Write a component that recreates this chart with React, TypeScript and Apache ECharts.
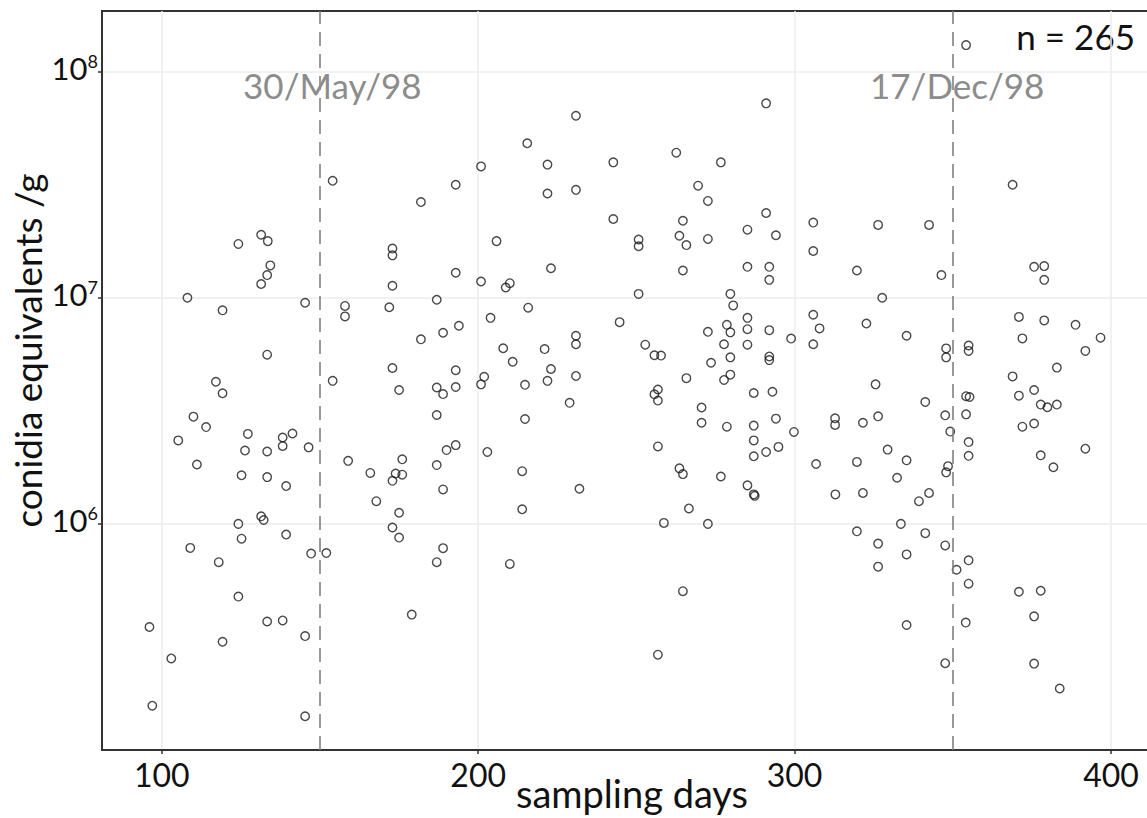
import React, { useEffect, useRef } from "react";
import * as echarts from "echarts";

// sampling day of each sample (day of year, 1998)
const samplingDays = [
  // before 30/May/98
  131.4, 133.5, 124.2, 134.3, 133.3, 131.4, 108.1, 145.3, 119.2, 133.3,
  117.1, 119.2, 110.0, 114.0, 105.2, 127.2, 138.2, 141.3, 126.3, 133.3,
  138.2, 146.4, 111.1, 125.2, 133.3, 139.3, 131.4, 132.2, 124.2, 125.2,
  139.3, 109.0, 147.2, 118.0, 124.2, 96.1, 133.3, 138.2, 145.3, 119.2,
  103.0, 97.0, 145.3,
  // 150 - 220
  215.5, 200.9, 154.0, 192.9, 181.9, 205.8, 172.9, 172.9, 192.9, 200.9,
  210.0, 208.7, 172.9, 157.9, 157.9, 171.9, 186.9, 215.8, 203.9, 193.9,
  188.9, 181.9, 207.9, 210.9, 172.9, 154.0, 175.0, 186.9, 188.9, 192.9,
  192.9, 200.9, 201.9, 214.8, 186.9, 214.8, 158.9, 165.9, 167.8, 176.0,
  173.9, 176.0, 172.9, 175.0, 172.9, 175.0, 186.9, 190.0, 192.9, 188.9,
  202.9, 213.9, 213.9, 152.0, 188.9, 186.9, 210.0, 179.0,
  // 220 - 283
  230.9, 221.9, 221.9, 230.9, 242.7, 242.7, 262.6, 276.7, 269.5, 272.6,
  264.7, 263.6, 265.8, 272.6, 250.7, 250.7, 264.7, 223.0, 250.7, 244.7,
  279.7, 280.6, 278.6, 279.7, 272.6, 277.7, 279.7, 273.6, 277.7, 279.7,
  230.9, 230.9, 221.0, 223.0, 221.9, 230.9, 228.9, 232.0, 252.8, 255.7,
  257.8, 265.8, 256.8, 255.7, 256.8, 270.6, 270.6, 278.6, 256.8, 263.6,
  264.7, 276.7, 266.6, 258.7, 272.6, 264.7, 256.8,
  // 283 - 350
  291.0, 291.0, 285.1, 294.1, 285.1, 292.0, 292.0, 305.9, 305.9, 326.4,
  342.5, 319.7, 346.4, 327.7, 322.7, 335.4, 305.9, 307.9, 305.9, 298.9,
  285.1, 285.1, 285.1, 292.0, 292.0, 292.0, 287.1, 293.0, 294.1, 287.1,
  287.1, 287.1, 291.0, 294.9, 299.8, 285.1, 287.1, 287.4, 312.8, 312.8,
  321.6, 326.4, 325.6, 341.3, 329.4, 335.4, 332.4, 306.8, 319.7, 312.9,
  321.6, 342.5, 339.3, 319.7, 333.6, 341.3, 326.4, 326.4, 335.4, 335.4,
  347.6, 347.6, 347.6, 347.9, 347.9, 349.2, 348.5, 347.9,
  // after 17/Dec/98
  354.2, 368.9, 375.7, 378.9, 378.9, 370.9, 378.9, 388.8, 396.7, 372.0,
  391.9, 355.0, 355.0, 382.9, 368.9, 375.7, 370.9, 377.8, 379.9, 382.9,
  354.2, 355.3, 354.2, 372.0, 375.7, 355.0, 355.0, 377.8, 381.8, 391.9,
  355.0, 351.2, 355.0, 354.1, 370.9, 377.8, 375.7, 375.7, 383.8,
];

// conidia equivalents per gram of each sample
const conidiaPerGram = [
  1.9e7, 1.78e7, 1.73e7, 1.39e7, 1.26e7, 1.15e7, 1.0e7, 9.5e6, 8.8e6, 5.6e6,
  4.25e6, 3.78e6, 2.98e6, 2.68e6, 2.34e6, 2.5e6, 2.41e6, 2.51e6, 2.11e6, 2.09e6,
  2.21e6, 2.18e6, 1.83e6, 1.64e6, 1.61e6, 1.47e6, 1.08e6, 1.04e6, 1.0e6, 8.6e5,
  8.97e5, 7.83e5, 7.39e5, 6.77e5, 4.77e5, 3.5e5, 3.7e5, 3.74e5, 3.19e5, 3.01e5,
  2.54e5, 1.57e5, 1.41e5,

  4.82e7, 3.81e7, 3.29e7, 3.16e7, 2.65e7, 1.78e7, 1.65e7, 1.54e7, 1.29e7, 1.18e7,
  1.16e7, 1.11e7, 1.13e7, 9.2e6, 8.27e6, 9.08e6, 9.8e6, 9.04e6, 8.15e6, 7.52e6,
  7.0e6, 6.55e6, 5.98e6, 5.21e6, 4.89e6, 4.29e6, 3.91e6, 4.01e6, 3.75e6, 4.78e6,
  4.03e6, 4.14e6, 4.47e6, 4.12e6, 3.03e6, 2.91e6, 1.9e6, 1.68e6, 1.26e6, 1.93e6,
  1.67e6, 1.65e6, 1.55e6, 1.12e6, 9.64e5, 8.7e5, 1.82e6, 2.12e6, 2.23e6, 1.42e6,
  2.08e6, 1.71e6, 1.16e6, 7.43e5, 7.81e5, 6.77e5, 6.65e5, 3.97e5,

  6.38e7, 3.88e7, 2.89e7, 3.0e7, 3.97e7, 2.23e7, 4.38e7, 3.97e7, 3.13e7, 2.68e7,
  2.19e7, 1.88e7, 1.71e7, 1.82e7, 1.81e7, 1.69e7, 1.32e7, 1.35e7, 1.04e7, 7.8e6,
  1.04e7, 9.25e6, 7.59e6, 7.03e6, 7.07e6, 6.23e6, 5.45e6, 5.16e6, 4.33e6, 4.57e6,
  6.79e6, 6.23e6, 5.93e6, 4.84e6, 4.29e6, 4.51e6, 3.43e6, 1.43e6, 6.2e6, 5.57e6,
  5.55e6, 4.41e6, 3.93e6, 3.74e6, 3.51e6, 3.27e6, 2.8e6, 2.69e6, 2.2e6, 1.76e6,
  1.66e6, 1.62e6, 1.17e6, 1.01e6, 1.0e6, 5.04e5, 2.64e5,

  7.24e7, 2.37e7, 2.0e7, 1.89e7, 1.37e7, 1.37e7, 1.2e7, 2.15e7, 1.61e7, 2.1e7,
  2.1e7, 1.32e7, 1.26e7, 1.0e7, 7.69e6, 6.79e6, 8.41e6, 7.32e6, 6.23e6, 6.6e6,
  8.15e6, 7.26e6, 6.2e6, 7.19e6, 5.5e6, 5.3e6, 3.79e6, 3.84e6, 2.92e6, 2.72e6,
  2.34e6, 1.99e6, 2.08e6, 2.19e6, 2.55e6, 1.48e6, 1.35e6, 1.33e6, 2.93e6, 2.74e6,
  2.8e6, 2.99e6, 4.14e6, 3.46e6, 2.13e6, 1.91e6, 1.6e6, 1.84e6, 1.88e6, 1.35e6,
  1.37e6, 1.37e6, 1.26e6, 9.27e5, 1.0e6, 9.1e5, 8.18e5, 6.47e5, 7.33e5, 3.57e5,
  3.02e6, 8.03e5, 2.42e5, 5.97e6, 5.45e6, 2.56e6, 1.8e6, 1.69e6,

  1.31e8, 3.16e7, 1.37e7, 1.38e7, 1.2e7, 8.23e6, 7.94e6, 7.59e6, 6.66e6, 6.61e6,
  5.82e6, 6.15e6, 5.82e6, 4.91e6, 4.49e6, 3.91e6, 3.69e6, 3.37e6, 3.28e6, 3.37e6,
  3.67e6, 3.64e6, 3.05e6, 2.69e6, 2.78e6, 2.3e6, 2.0e6, 2.01e6, 1.78e6, 2.15e6,
  6.9e5, 6.27e5, 5.44e5, 3.66e5, 5.01e5, 5.06e5, 3.9e5, 2.41e5, 1.87e5,
];

const xTickLabels = [100, 200, 300, 400];
const yTickValues = [1e6, 1e7, 1e8];
const eventDays = [150, 350];
const eventLabels = ["30/May/98", "17/Dec/98"];
const eventLabelDays = [153.9, 351.4];
const eventLabelLevel = 8.7e7;
const sampleCountLabel = "n = 265";

const FONT = "Lato, 'Open Sans', sans-serif";

export default function App() {
  const ref = useRef<HTMLDivElement>(null);

  useEffect(() => {
    const chart = echarts.init(ref.current as HTMLDivElement, null, { renderer: "svg" });
    const points = samplingDays.map((d, i) => [d, conidiaPerGram[i]]);
    chart.setOption({
      animation: false,
      grid: {
        left: 102,
        right: -1,
        top: 11,
        bottom: 68,
        containLabel: false,
        outerBoundsMode: "none",
        show: true,
        borderColor: "#333",
        borderWidth: 2,
        backgroundColor: "transparent",
      },
      xAxis: {
        type: "value",
        min: 81.1,
        max: 411.7,
        splitNumber: 7,
        name: "sampling days",
        nameLocation: "middle",
        nameGap: 24,
        nameMoveOverlap: false,
        nameTextStyle: { fontSize: 38, fontFamily: FONT, color: "#111", padding: [0, 0, 0, 14] },
        axisLine: { show: true, lineStyle: { color: "#333", width: 2 } },
        axisTick: { show: true, length: 4, customValues: xTickLabels, lineStyle: { color: "#333", width: 1.5 } },
        axisLabel: { customValues: xTickLabels, margin: 8, fontSize: 32, fontFamily: FONT, color: "#111" },
        splitLine: { show: true, lineStyle: { color: "#ececec", width: 1.5 } },
      },
      yAxis: {
        type: "log",
        logBase: 10,
        min: 1e5,
        max: 1.854e8,
        name: "conidia equivalents /g",
        nameLocation: "middle",
        nameGap: 56,
        nameMoveOverlap: false,
        nameTextStyle: { fontSize: 37, fontFamily: FONT, color: "#111", padding: [0, 0, 0, 60] },
        axisLine: { show: true, lineStyle: { color: "#333", width: 2 } },
        axisTick: { show: true, length: 4, customValues: yTickValues, lineStyle: { color: "#333", width: 1.5 } },
        axisLabel: {
          customValues: yTickValues,
          margin: 4,
          padding: [0, 0, 8, 0],
          formatter: (v: number) => `{b|10}{s|${Math.round(Math.log10(v))}}`,
          rich: {
            b: { fontSize: 31, fontFamily: FONT, color: "#111", lineHeight: 32 },
            s: { fontSize: 18, fontFamily: FONT, color: "#111", verticalAlign: "top", lineHeight: 18 },
          },
        },
        splitLine: { show: true, lineStyle: { color: "#ececec", width: 1.5 } },
      },
      graphic: [
        {
          type: "text",
          right: 12,
          top: 18,
          style: { text: sampleCountLabel, fontSize: 35, fontFamily: FONT, fill: "#111" },
        },
      ],
      series: [
        {
          type: "scatter",
          data: points,
          symbol: "circle",
          symbolSize: 8.5,
          itemStyle: { color: "rgba(0,0,0,0)", borderColor: "#1a1a1a", borderWidth: 1.4 },
          markLine: {
            silent: true,
            symbol: ["none", "none"],
            label: { show: false },
            lineStyle: { type: [14, 8], color: "#808080", width: 1.6 },
            data: eventDays.map((d) => ({ xAxis: d })),
          },
          markPoint: {
            silent: true,
            symbol: "circle",
            symbolSize: 1,
            itemStyle: { color: "rgba(0,0,0,0)" },
            label: {
              show: true,
              position: "inside",
              formatter: "{b}",
              fontSize: 35,
              fontFamily: FONT,
              color: "#8c8c8c",
            },
            data: eventLabels.map((t, i) => ({ name: t, coord: [eventLabelDays[i], eventLabelLevel] })),
          },
        },
      ],
    });
    return () => chart.dispose();
  }, []);

  return (
    <div
      ref={ref}
      style={{ position: "absolute", left: 0, top: 0, width: 1147, height: 818 }}
    />
  );
}
